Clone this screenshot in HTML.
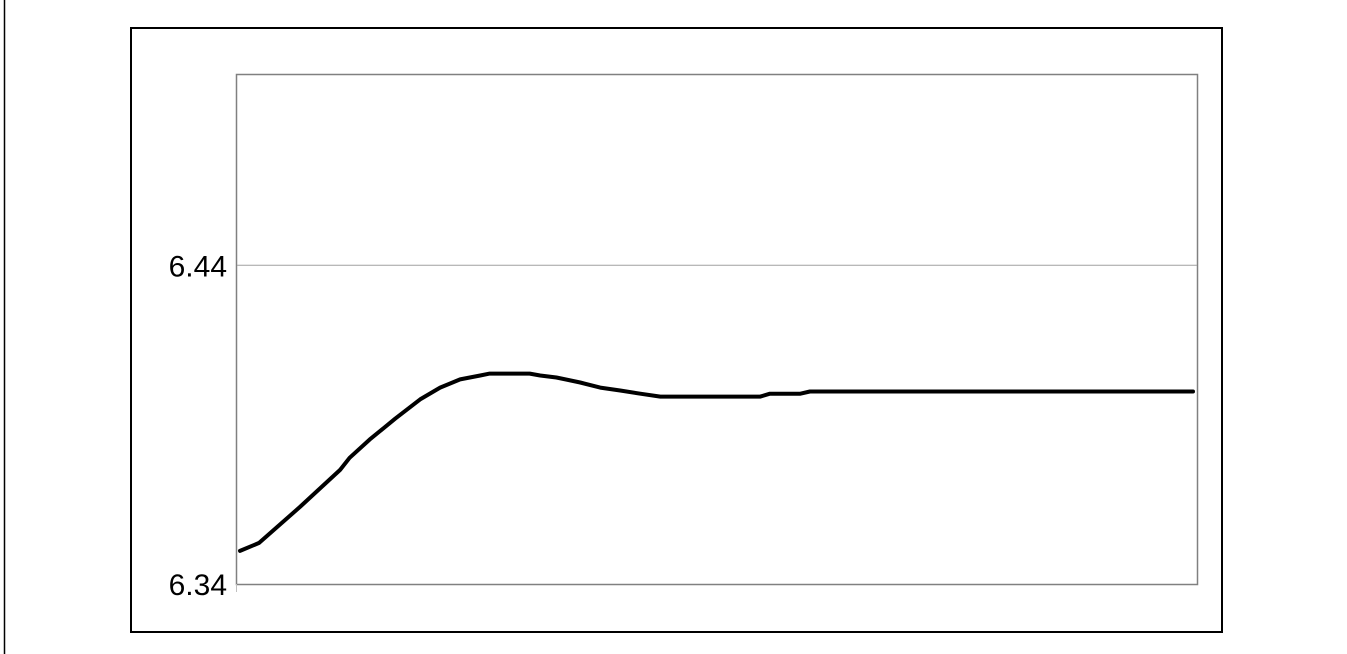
<!DOCTYPE html>
<html><head><meta charset="utf-8"><style>
html,body{margin:0;padding:0;background:#fff;width:1347px;height:654px;overflow:hidden}
svg{display:block;font-family:"Liberation Sans",Arial,sans-serif}
</style></head><body>
<svg id="chart" width="1347" height="654">
<line x1="4.5" y1="0" x2="4.5" y2="654" stroke="#000" stroke-width="1.5"/>
<rect x="131" y="28" width="1091" height="604" fill="#fff" stroke="#000" stroke-width="2"/>
<rect x="236.5" y="74.5" width="961" height="510" fill="#fff" stroke="#808080" stroke-width="1.5"/>
<g id="grid"></g><g id="ticks"></g><g id="series"></g>
</svg>
<script>
const tickValues=[6.34,6.44];
const tickLabels=["6.34","6.44"];
const xs=[0,2,6.3,10.5,11.5,13.6,16.3,18.9,21,23.1,25.2,26.2,30.4,31.5,33.2,35.7,37.8,39.9,42,44.1,54.6,55.6,58.8,59.8,100];
const ys=[6.3504,6.3529,6.3642,6.3758,6.3796,6.3853,6.3919,6.3979,6.4016,6.4042,6.4054,6.4060,6.4060,6.4054,6.4048,6.4032,6.4016,6.4007,6.3997,6.3988,6.3988,6.3997,6.3997,6.4004,6.4004];
const X0=240,X1=1193,Y0=584,Y1=74,YMIN=6.34,YMAX=6.50;
const sx=t=>X0+(t-0)/(100-0)*(X1-X0);
const sy=v=>Y0-(v-YMIN)/(YMAX-YMIN)*(Y0-Y1);
const NS="http://www.w3.org/2000/svg";
const grid=document.getElementById('grid'),ticks=document.getElementById('ticks'),ser=document.getElementById('series');
tickValues.forEach((v,i)=>{
  const y=sy(v);
  if(v>YMIN){
    const l=document.createElementNS(NS,'line');
    l.setAttribute('x1',237);l.setAttribute('x2',1197);l.setAttribute('y1',y);l.setAttribute('y2',y);
    l.setAttribute('stroke','#a0a0a0');l.setAttribute('stroke-width','1');
    
    
    grid.appendChild(l);
  }
  const t=document.createElementNS(NS,'text');
  t.setAttribute('x',227);t.setAttribute('y',y+11);t.setAttribute('text-anchor','end');
  t.setAttribute('font-size','30');t.textContent=tickLabels[i];
  
  
  ticks.appendChild(t);
});
const tk=document.createElementNS(NS,'line');
tk.setAttribute('x1',236.5);tk.setAttribute('x2',236.5);tk.setAttribute('y1',584);tk.setAttribute('y2',592);tk.setAttribute('stroke','#c0c0c0');


ticks.appendChild(tk);
const p=document.createElementNS(NS,'polyline');
p.setAttribute('points',xs.map((x,i)=>sx(x).toFixed(1)+','+sy(ys[i]).toFixed(1)).join(' '));
p.setAttribute('fill','none');p.setAttribute('stroke','#000');p.setAttribute('stroke-width','4');p.setAttribute('stroke-linejoin','round');p.setAttribute('stroke-linecap','round');


ser.appendChild(p);
</script>
</body></html>
